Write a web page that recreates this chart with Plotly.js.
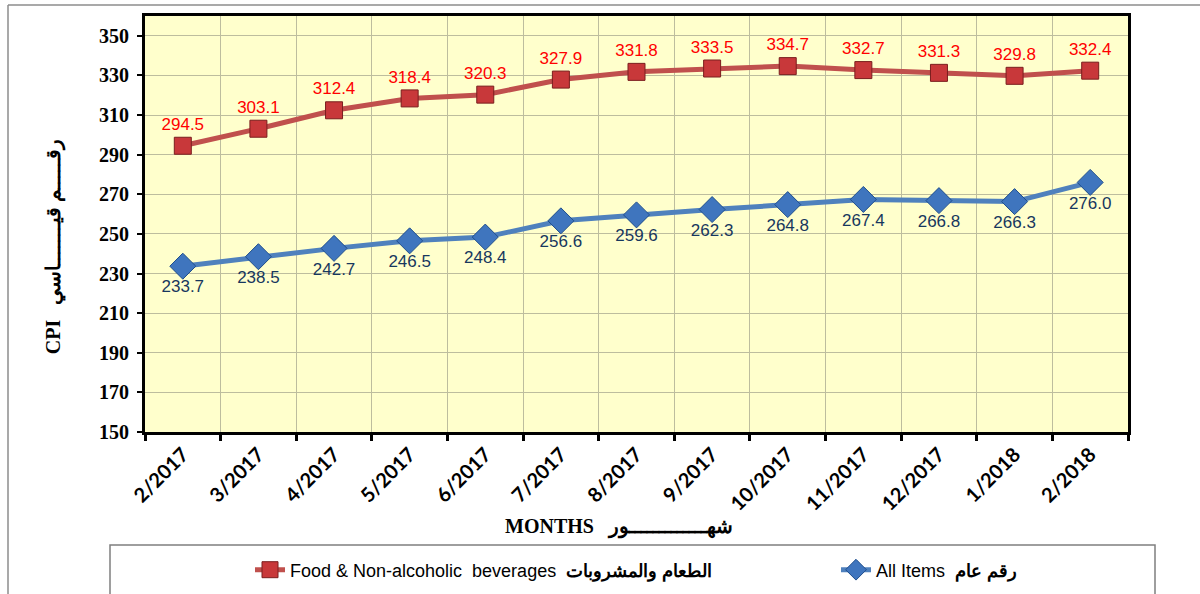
<!DOCTYPE html>
<html>
<head>
<meta charset="utf-8">
<script src="https://cdn.plot.ly/plotly-3.0.1.min.js"></script>
<style>html,body{margin:0;padding:0;background:#fff;}#chart{width:1200px;height:594px;}</style>
</head>
<body>
<div id="chart"></div>
<script>
const months = ["2/2017","3/2017","4/2017","5/2017","6/2017","7/2017","8/2017","9/2017","10/2017","11/2017","12/2017","1/2018","2/2018"];
const foodValues = [294.5, 303.1, 312.4, 318.4, 320.3, 327.9, 331.8, 333.5, 334.7, 332.7, 331.3, 329.8, 332.4];
const allItemsValues = [233.7, 238.5, 242.7, 246.5, 248.4, 256.6, 259.6, 262.3, 264.8, 267.4, 266.8, 266.3, 276.0];
const NB = "\u00A0";
const foodName = "Food & Non-alcoholic" + NB + NB + "beverages" + NB + " <b>الطعام والمشروبات</b>";
const allName = "All Items" + NB + " <b>رقم عام</b>";
const pad = n => "<span style='color:rgba(0,0,0,0)'>" + "x".repeat(n) + "</span>";
const xTitle = "<b>MONTHS" + NB + NB + " شهـــــــــــــور" + NB + "</b>" + pad(3);
const yTitle = "<b>CPI" + NB + NB + " رقـــــم قيـــــــاسي" + NB + "</b>" + pad(4);

const traces = [
  {
    x: months, y: foodValues, name: foodName, type: "scatter", mode: "lines+markers+text",
    legend: "legend",
    line: {color: "#C0504D", width: 5},
    marker: {symbol: "square", size: 17, color: "#C8383A", line: {color: "#7A1E1E", width: 1}},
    text: foodValues, texttemplate: "%{y:.1f}", textposition: "top center",
    textfont: {family: "Liberation Sans, Arial, sans-serif", size: 17, color: "#FF0000"},
    cliponaxis: false
  },
  {
    x: months, y: allItemsValues, name: allName, type: "scatter", mode: "lines+markers+text",
    legend: "legend2",
    line: {color: "#4F81BD", width: 5},
    marker: {symbol: "diamond", size: 20, color: "#3F75BE", line: {color: "#1F4E8C", width: 1}},
    text: allItemsValues, texttemplate: "%{y:.1f}", textposition: "bottom center",
    textfont: {family: "Liberation Sans, Arial, sans-serif", size: 17, color: "#17375E"},
    cliponaxis: false
  }
];

const px = v => (v - 145) / 983;
const py = v => (432 - v) / 416;

const legendCommon = {
  orientation: "h", xref: "container", yref: "container", xanchor: "left", yanchor: "middle",
  font: {family: "Liberation Sans, Arial, sans-serif", size: 18, color: "#000"},
  bgcolor: "rgba(0,0,0,0)", itemwidth: 30, tracegroupgap: 0
};

const layout = {
  width: 1200, height: 594,
  margin: {l: 145, r: 72, t: 16, b: 162, autoexpand: false},
  paper_bgcolor: "#FFFFFF",
  plot_bgcolor: "#FFFFCC",
  showlegend: true,
  legend: Object.assign({}, legendCommon, {x: 250 / 1200, y: 1 - 570 / 594}),
  legend2: Object.assign({}, legendCommon, {x: 836 / 1200, y: 1 - 570 / 594}),
  xaxis: {
    type: "category", tickson: "boundaries", ticks: "outside", ticklen: 6, tickwidth: 3, tickcolor: "#000",
    showgrid: true, gridcolor: "#BDBD9E", gridwidth: 1,
    showline: true, linecolor: "#000", linewidth: 3, mirror: true,
    tickangle: -45, automargin: false,
    tickfont: {family: "Lato, Carlito, sans-serif", size: 20, color: "#000", weight: "bold"},
    title: {text: xTitle, standoff: 6,
      font: {family: "Liberation Serif, Times New Roman, serif", size: 20, color: "#000"}},
    range: [-0.5, 12.5], fixedrange: true
  },
  yaxis: {
    range: [150, 360], tick0: 150, dtick: 20, ticks: "outside", ticklen: 5, tickwidth: 2, tickcolor: "#000",
    ticklabelstandoff: 4, automargin: false,
    showgrid: true, gridcolor: "#BDBD9E", gridwidth: 1,
    showline: true, linecolor: "#000", linewidth: 3, mirror: true, zeroline: false,
    tickfont: {family: "Liberation Serif, Times New Roman, serif", size: 20, color: "#000", weight: "bold"},
    title: {text: yTitle, standoff: 34,
      font: {family: "Liberation Serif, Times New Roman, serif", size: 20, color: "#000"}},
    fixedrange: true
  },
  shapes: [
    {type: "line", xref: "paper", yref: "paper", x0: px(8), x1: px(1200), y0: py(5), y1: py(5), line: {color: "#8C8C8C", width: 1.5}},
    {type: "line", xref: "paper", yref: "paper", x0: px(8), x1: px(8), y0: py(5), y1: py(600), line: {color: "#8C8C8C", width: 1.5}},
    {type: "rect", xref: "paper", yref: "paper", x0: px(110), x1: px(1155), y0: py(545), y1: py(620), line: {color: "#7F7F7F", width: 1.5}, fillcolor: "rgba(0,0,0,0)"}
  ]
};

Plotly.newPlot("chart", traces, layout, {displayModeBar: false, staticPlot: true});
</script>
</body>
</html>
